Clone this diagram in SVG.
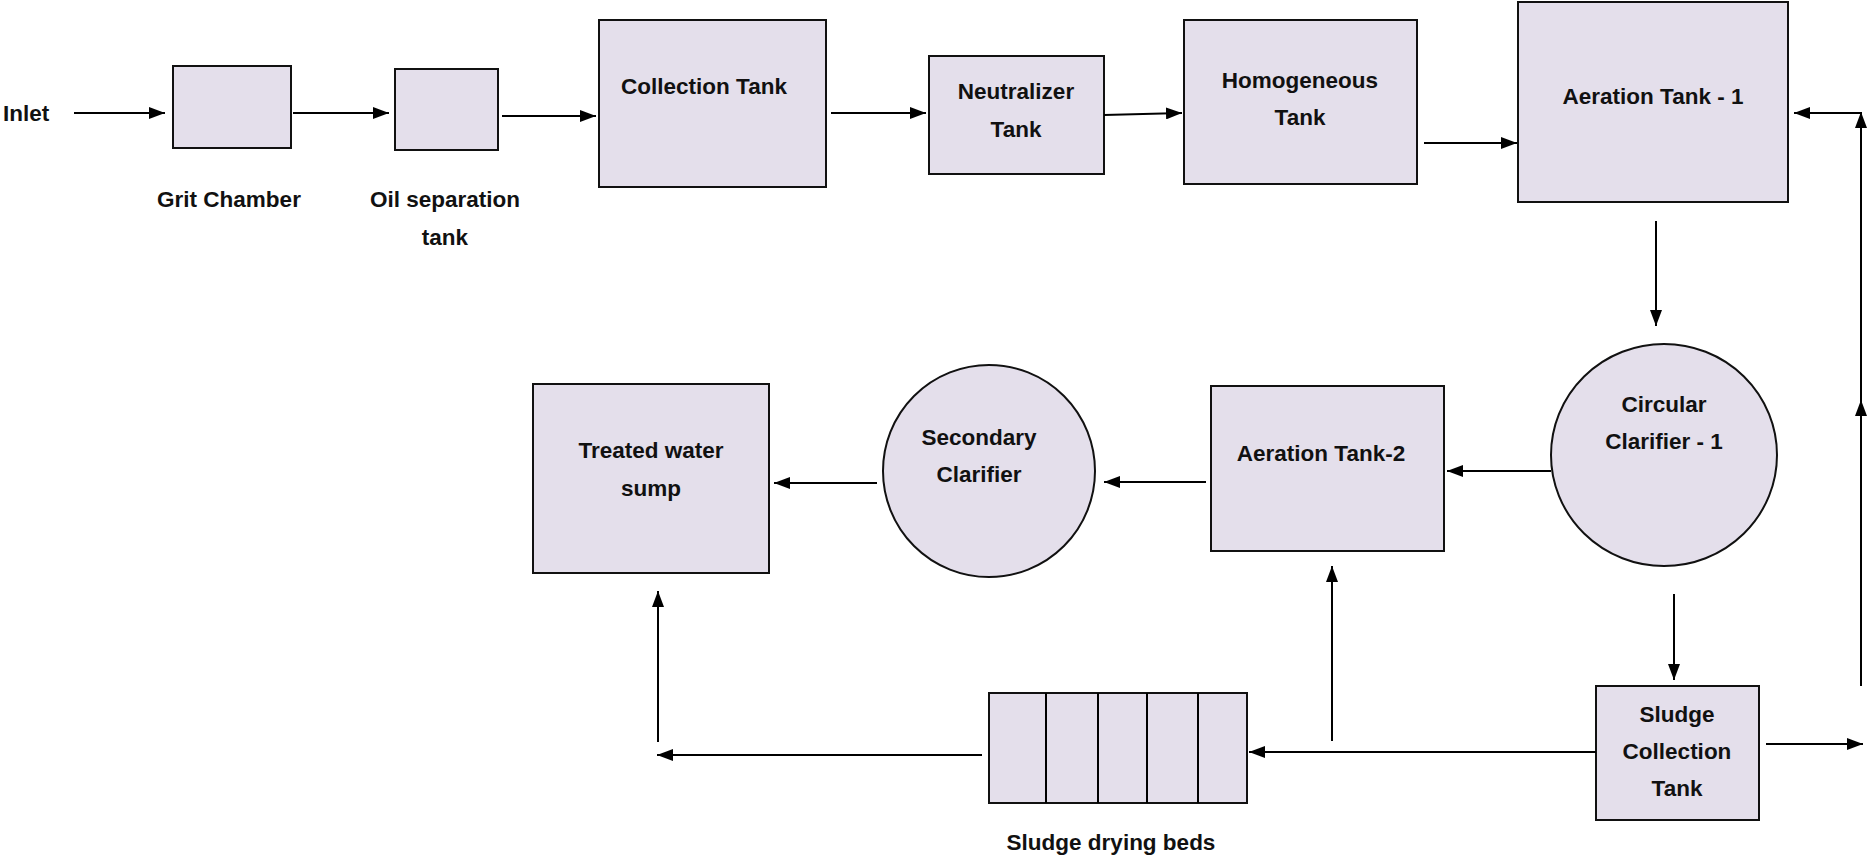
<svg xmlns="http://www.w3.org/2000/svg" width="1870" height="858" viewBox="0 0 1870 858">
<style>
.box{fill:#e4dfeb;stroke:#111;stroke-width:2}
.lbl{font-family:"Liberation Sans",Arial,sans-serif;font-weight:bold;font-size:22.5px;fill:#111;text-anchor:middle}
.con{stroke:#000;stroke-width:2;fill:none;marker-end:url(#ah)}
.ln{stroke:#000;stroke-width:2;fill:none}
</style>
<defs>
<marker id="ah" markerUnits="userSpaceOnUse" markerWidth="16" markerHeight="12" refX="16" refY="6" orient="auto">
<path d="M0,0 L16,6 L0,12 z" fill="#000"/>
</marker>
</defs>
<rect width="1870" height="858" fill="#fff"/>
<g id="inlet"><text class="lbl" x="3" y="121" style="text-anchor:start">Inlet</text></g>
<g id="grit-chamber"><rect class="box" x="173" y="66" width="118" height="82"/><text class="lbl" x="229" y="207">Grit Chamber</text></g>
<g id="oil-separation-tank"><rect class="box" x="395" y="69" width="103" height="81"/><text class="lbl" x="445" y="207">Oil separation</text><text class="lbl" x="445" y="245">tank</text></g>
<g id="collection-tank"><rect class="box" x="599" y="20" width="227" height="167"/><text class="lbl" x="704" y="94">Collection Tank</text></g>
<g id="neutralizer-tank"><rect class="box" x="929" y="56" width="175" height="118"/><text class="lbl" x="1016" y="99">Neutralizer</text><text class="lbl" x="1016" y="137">Tank</text></g>
<g id="homogeneous-tank"><rect class="box" x="1184" y="20" width="233" height="164"/><text class="lbl" x="1300" y="88">Homogeneous</text><text class="lbl" x="1300" y="125">Tank</text></g>
<g id="aeration-tank-1"><rect class="box" x="1518" y="2" width="270" height="200"/><text class="lbl" x="1653" y="104">Aeration Tank - 1</text></g>
<g id="circular-clarifier-1"><ellipse class="box" cx="1664" cy="455" rx="113" ry="111"/><text class="lbl" x="1664" y="412">Circular</text><text class="lbl" x="1664" y="449">Clarifier - 1</text></g>
<g id="aeration-tank-2"><rect class="box" x="1211" y="386" width="233" height="165"/><text class="lbl" x="1321" y="461">Aeration Tank-2</text></g>
<g id="secondary-clarifier"><ellipse class="box" cx="989" cy="471" rx="106" ry="106"/><text class="lbl" x="979" y="445">Secondary</text><text class="lbl" x="979" y="482">Clarifier</text></g>
<g id="treated-water-sump"><rect class="box" x="533" y="384" width="236" height="189"/><text class="lbl" x="651" y="458">Treated water</text><text class="lbl" x="651" y="496">sump</text></g>
<g id="sludge-drying-beds"><rect class="box" x="989" y="693" width="258" height="110"/>
<path class="ln" d="M1046,693 V803 M1098,693 V803 M1147,693 V803 M1198,693 V803"/>
<text class="lbl" x="1111" y="850">Sludge drying beds</text></g>
<g id="sludge-collection-tank"><rect class="box" x="1596" y="686" width="163" height="134"/><text class="lbl" x="1677" y="722">Sludge</text><text class="lbl" x="1677" y="759">Collection</text><text class="lbl" x="1677" y="796">Tank</text></g>
<g id="connectors">
<line class="con" x1="74" y1="113" x2="165" y2="113"/>
<line class="con" x1="293" y1="113" x2="389" y2="113"/>
<line class="con" x1="502" y1="116" x2="596" y2="116"/>
<line class="con" x1="831" y1="113" x2="926" y2="113"/>
<line class="con" x1="1104" y1="115" x2="1182" y2="113"/>
<line class="con" x1="1424" y1="143" x2="1517" y2="143"/>
<line class="con" x1="1656" y1="221" x2="1656" y2="326"/>
<line class="con" x1="1551" y1="471" x2="1447" y2="471"/>
<line class="con" x1="1206" y1="482" x2="1104" y2="482"/>
<line class="con" x1="877" y1="483" x2="774" y2="483"/>
<line class="con" x1="1674" y1="594" x2="1674" y2="680"/>
<line class="con" x1="1596" y1="752" x2="1249" y2="752"/>
<line class="con" x1="1332" y1="741" x2="1332" y2="566"/>
<line class="con" x1="982" y1="755" x2="657" y2="755"/>
<line class="con" x1="658" y1="742" x2="658" y2="591"/>
<line class="con" x1="1766" y1="744" x2="1863" y2="744"/>
<line class="con" x1="1861" y1="686" x2="1861" y2="400"/>
<line class="con" x1="1861" y1="400" x2="1861" y2="112"/>
<line class="con" x1="1861" y1="113" x2="1794" y2="113"/>
</g>
</svg>
